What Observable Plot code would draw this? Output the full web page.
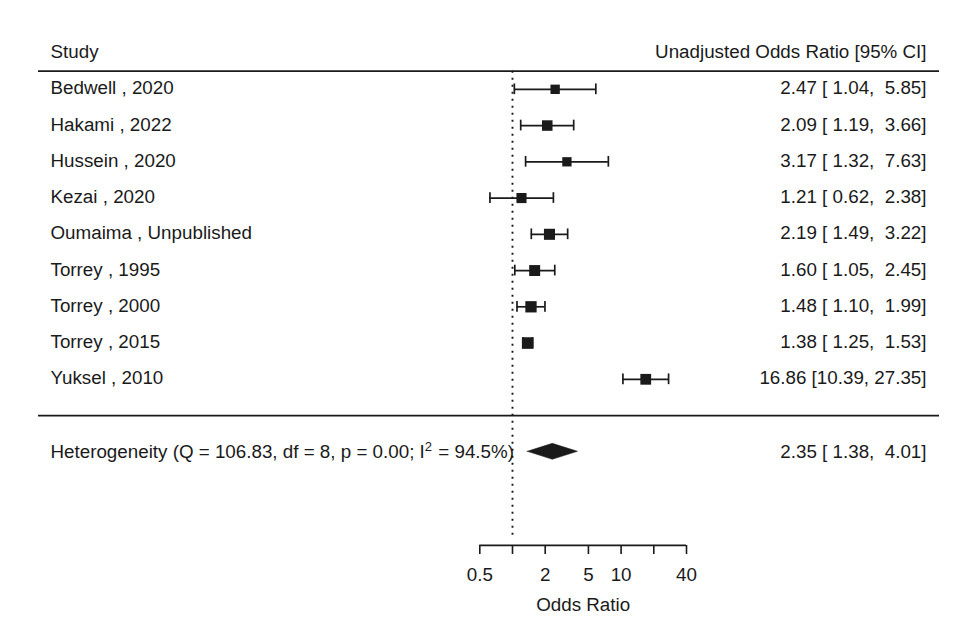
<!DOCTYPE html>
<html>
<head>
<meta charset="utf-8">
<script src="https://cdn.jsdelivr.net/npm/d3@7"></script>
<script src="https://cdn.jsdelivr.net/npm/@observablehq/plot@0.6"></script>
<style>
  html, body { margin: 0; padding: 0; background: #fff; }
  #chart svg { display: block; }
</style>
</head>
<body>
<div id="chart"></div>
<script>
// ---- data ----
const studies = ["Bedwell , 2020", "Hakami , 2022", "Hussein , 2020", "Kezai , 2020",
  "Oumaima , Unpublished", "Torrey , 1995", "Torrey , 2000", "Torrey , 2015", "Yuksel , 2010"];
const estimates = [2.47, 2.09, 3.17, 1.21, 2.19, 1.60, 1.48, 1.38, 16.86];
const lowerCI   = [1.04, 1.19, 1.32, 0.62, 1.49, 1.05, 1.10, 1.25, 10.39];
const upperCI   = [5.85, 3.66, 7.63, 2.38, 3.22, 2.45, 1.99, 1.53, 27.35];
const summaryEstimate = 2.35;
const summaryLower = 1.38;
const summaryUpper = 4.01;
const heterogeneityLabel = "Heterogeneity (Q = 106.83, df = 8, p = 0.00; I\u00B2 = 94.5%)";
const headerLeft = "Study";
const headerRight = "Unadjusted Odds Ratio [95% CI]";
const axisLabel = "Odds Ratio";
const tickValues = [0.5, 1, 2, 5, 10, 20, 40];
const tickLabels = ["0.5", "", "2", "5", "10", "", "40"];
const tau2 = 0.58; // between-study variance (random-effects), used for square weights

// ---- derived table ----
const NB = "\u00A0";
const pad = v => v.toFixed(2).padStart(5, " ");
const fmt = (e, l, u) => `${e.toFixed(2)} [${pad(l)}, ${pad(u)}]`.replace(/ /g, NB);
const k = studies.length;
const rows = studies.map((s, i) => {
  const se = (Math.log(upperCI[i]) - Math.log(lowerCI[i])) / 3.92;
  return {
    study: s, row: k - i, est: estimates[i], lb: lowerCI[i], ub: upperCI[i],
    w: 1 / (se * se + tau2),
    label: fmt(estimates[i], lowerCI[i], upperCI[i])
  };
});
const ends = rows.flatMap(d => [{x: d.lb, row: d.row}, {x: d.ub, row: d.row}]);
const summaryRow = -1;
const dh = 0.22;
const diamond = [
  {x: summaryLower, y1: summaryRow, y2: summaryRow},
  {x: summaryEstimate, y1: summaryRow - dh, y2: summaryRow + dh},
  {x: summaryUpper, y1: summaryRow, y2: summaryRow}
];
const wMin = d3.min(rows, d => d.w), wMax = d3.max(rows, d => d.w);
const AXIS_ROW = -3.58;
const ink = "#1a1a1a";
const font = "Liberation Sans, Arial, Helvetica, sans-serif";
const FS = 18.8;

const chart = Plot.plot({
  width: 958,
  height: 628,
  marginLeft: 38,
  marginRight: 19,
  marginTop: 0,
  marginBottom: 83,
  style: {fontFamily: font, fontSize: FS + "px", color: ink, background: "#fff"},
  x: {type: "log", domain: [0.5, 40], range: [479.3, 686]},
  y: {domain: [1, k], range: [378.8, 88.8], axis: null},
  r: {type: "linear", domain: [wMin, wMax], range: [9.3 / Math.sqrt(Math.PI), 11.6 / Math.sqrt(Math.PI)]},
  marks: [
    // horizontal separators
    Plot.ruleY([k + 0.5, 0], {stroke: ink, strokeWidth: 1.8}),
    // reference line at OR = 1
    Plot.ruleX([1], {y1: k + 0.5, y2: AXIS_ROW + 0.15, stroke: ink, strokeWidth: 1.9, strokeDasharray: "2 5"}),
    // CI whiskers
    Plot.ruleY(rows, {y: "row", x1: "lb", x2: "ub", stroke: ink, strokeWidth: 1.7}),
    Plot.ruleX(ends, {x: "x", y1: d => d.row - 0.148, y2: d => d.row + 0.148, stroke: ink, strokeWidth: 1.7}),
    // point estimates
    Plot.dot(rows, {x: "est", y: "row", r: "w", symbol: "square", fill: ink, stroke: null}),
    // summary diamond
    Plot.areaY(diamond, {x: "x", y1: "y1", y2: "y2", fill: ink, stroke: ink, strokeWidth: 0.5}),
    // headers
    Plot.text([headerLeft], {y: k + 1, frameAnchor: "left", dx: 12, dy: -1, textAnchor: "start", fill: ink, fontSize: FS}),
    Plot.text([headerRight], {y: k + 1, frameAnchor: "right", dx: -13, dy: -1, textAnchor: "end", fill: ink, fontSize: FS}),
    // study labels and numbers
    Plot.text(rows, {y: "row", text: "study", frameAnchor: "left", dx: 12, dy: -1, textAnchor: "start", fill: ink, fontSize: FS}),
    Plot.text(rows, {y: "row", text: "label", frameAnchor: "right", dx: -13, dy: -1, textAnchor: "end", fill: ink, fontSize: FS}),
    // summary row text
    Plot.text([heterogeneityLabel], {y: summaryRow, frameAnchor: "left", dx: 12, dy: 0, textAnchor: "start", fill: ink, fontSize: FS, className: "het"}),
    Plot.text([fmt(summaryEstimate, summaryLower, summaryUpper)], {y: summaryRow, frameAnchor: "right", dx: -13, dy: 0, textAnchor: "end", fill: ink, fontSize: FS}),
    // x axis
    Plot.ruleY([AXIS_ROW], {x1: 0.5, x2: 40, stroke: ink, strokeWidth: 1.6}),
    Plot.axisX({
      ticks: tickValues,
      tickFormat: d => tickLabels[tickValues.indexOf(d)],
      tickSize: 9,
      tickPadding: 13,
      strokeWidth: 1.6,
      stroke: ink,
      fill: ink,
      fontSize: FS,
      label: null
    }),
    Plot.text([axisLabel], {frameAnchor: "bottom", dy: 59, lineAnchor: "middle", x: [Math.sqrt(0.5 * 40)], fill: ink, fontSize: FS})
  ]
});
document.getElementById("chart").appendChild(chart);

// render the "I²" with a real superscript 2
d3.select(chart).selectAll("g.het text").each(function () {
  const t = this.textContent;
  const idx = t.indexOf("\u00B2");
  if (idx < 0) return;
  const sel = d3.select(this);
  sel.text(null);
  sel.append("tspan").text(t.slice(0, idx));
  sel.append("tspan").attr("dy", "-7").attr("font-size", "13px").text("2");
  sel.append("tspan").attr("dy", "7").attr("dx", "1").text(t.slice(idx + 1));
});
</script>
</body>
</html>
